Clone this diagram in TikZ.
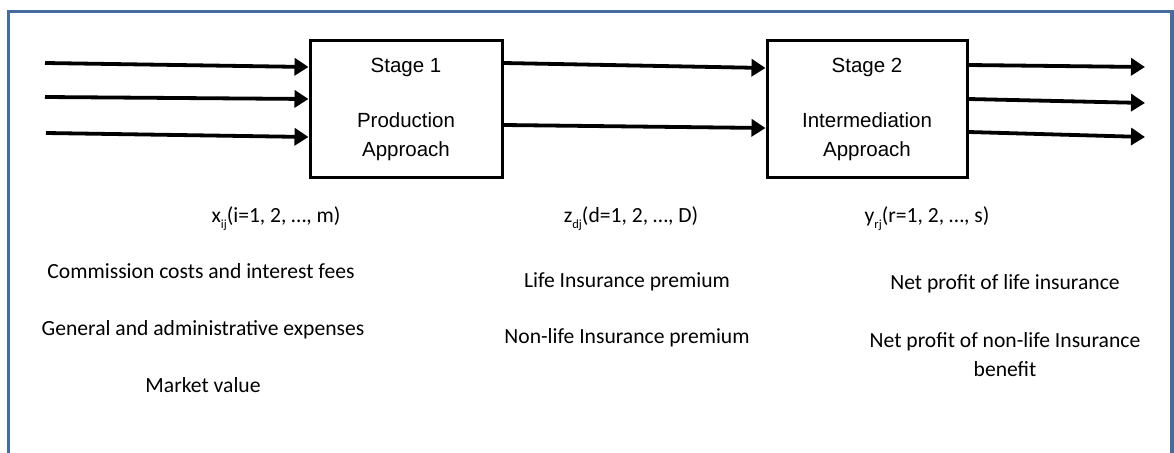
\documentclass[tikz,border=0pt]{standalone}
\usepackage{fontspec}
\setmainfont{Carlito}
\newfontfamily\arialfont{Liberation Sans}
\usetikzlibrary{arrows.meta,calc}
\definecolor{framecol}{RGB}{70,108,157}
\newcommand{\subtxt}[1]{\raisebox{-6pt}{\fontsize{12.5}{12.5}\selectfont #1}}
\begin{document}
\begin{tikzpicture}[x=1pt,y=-1pt,
  flow/.style={line width=3.8pt,-{Triangle[length=14pt,width=17pt]}},
  stagebox/.style={draw,line width=3pt,minimum width=192pt,minimum height=136pt,align=center,font=\arialfont\fontsize{20.5}{29}\selectfont},
  note/.style={anchor=base,font=\fontsize{21.6}{29}\selectfont,inner sep=0pt}]
\useasboundingbox (0,0) rectangle (1174,452);
\draw[framecol, line width=3.5pt] (8.5,11.5) rectangle (1172,480);

\node[stagebox] (stage1) at (406,109) {Stage 1\\[26pt]Production\\Approach};
\node[stagebox,minimum width=200pt] (stage2) at (867,109) {Stage 2\\[26pt]Intermediation\\Approach};

% inputs
\coordinate (startIn1) at (45,63);
\coordinate (startIn2) at (45,97);
\coordinate (startIn3) at (46,133);
\coordinate (endIn1) at ($(stage1.west)+(0,-42)$);
\coordinate (endIn2) at ($(stage1.west)+(0,-10)$);
\coordinate (endIn3) at ($(stage1.west)+(0,28)$);
\draw[flow] (startIn1) -- (endIn1);
\draw[flow] (startIn2) -- (endIn2);
\draw[flow] (startIn3) -- (endIn3);

% intermediate
\coordinate (startMid1) at ($(stage1.east)+(0,-46)$);
\coordinate (startMid2) at ($(stage1.east)+(0,16)$);
\coordinate (endMid1) at ($(stage2.west)+(0,-41)$);
\coordinate (endMid2) at ($(stage2.west)+(0,19)$);
\draw[flow] (startMid1) -- (endMid1);
\draw[flow] (startMid2) -- (endMid2);

% outputs
\coordinate (startOut1) at ($(stage2.east)+(0,-44)$);
\coordinate (startOut2) at ($(stage2.east)+(0,-10)$);
\coordinate (startOut3) at ($(stage2.east)+(0,23)$);
\coordinate (endOut1) at (1145,67);
\coordinate (endOut2) at (1145,103);
\coordinate (endOut3) at (1145,137);
\draw[flow] (startOut1) -- (endOut1);
\draw[flow] (startOut2) -- (endOut2);
\draw[flow] (startOut3) -- (endOut3);

% labels
\node[note] (xLabel) at (276,222) {x\subtxt{ij}(i=1, 2, …, m)};
\node[note] (cost1) at (201,278) {Commission costs and interest fees};
\node[note] (cost2) at (203,335) {General and administrative expenses};
\node[note] (cost3) at (203,392) {Market value};

\node[note] (zLabel) at (631,222) {z\subtxt{dj}(d=1, 2, …, D)};
\node[note] (prem1) at (627,287) {Life Insurance premium};
\node[note] (prem2) at (627,343) {Non-life Insurance premium};

\node[note] (yLabel) at (927,222) {y\subtxt{rj}(r=1, 2, …, s)};
\node[note] (profit1) at (1005,289) {Net profit of life insurance};
\node[note,align=center] (profit2) at (1005,376) {Net profit of non-life Insurance\\benefit};
\end{tikzpicture}
\end{document}
